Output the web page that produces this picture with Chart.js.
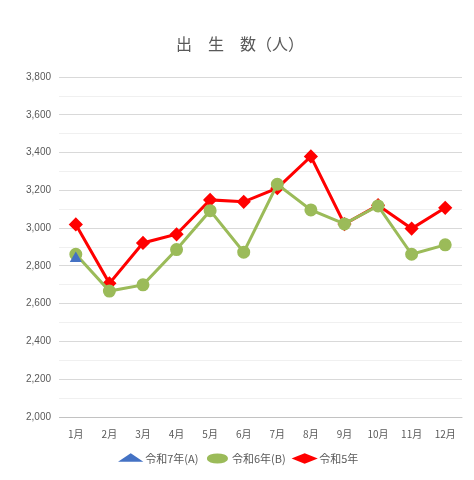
<!DOCTYPE html>
<html><head><meta charset="utf-8">
<script src="https://cdn.jsdelivr.net/npm/chart.js@4"></script>
<style>body{margin:0;background:#fff}#wrap{width:474px;height:480px}</style>
</head><body><div id="wrap"><canvas id="c"></canvas></div>
<script>
const months = ['1月','2月','3月','4月','5月','6月','7月','8月','9月','10月','11月','12月'];
const r7 = [2840, null, null, null, null, null, null, null, null, null, null, null];
const r6 = [2862, 2667, 2700, 2887, 3093, 2873, 3233, 3097, 3023, 3118, 2862, 2912];
const r5 = [3020, 2708, 2922, 2968, 3150, 3140, 3212, 3380, 3022, 3122, 2998, 3108];

new Chart(document.getElementById('c'), {
  type: 'line',
  data: {
    labels: months,
    datasets: [
      { label: '令和7年(A)', data: r7, borderColor: '#4472c4', backgroundColor: '#4472c4', borderWidth: 3, pointStyle: 'triangle', pointRadius: 4 },
      { label: '令和6年(B)', data: r6, borderColor: '#9bbb59', backgroundColor: '#9bbb59', borderWidth: 3, pointStyle: 'circle', pointRadius: 5 },
      { label: '令和5年', data: r5, borderColor: '#ff0000', backgroundColor: '#ff0000', borderWidth: 3, pointStyle: 'rectRot', pointRadius: 5 }
    ]
  },
  options: {
    responsive: true, maintainAspectRatio: false, animation: false,
    layout: { padding: { left: 18, right: 12, top: 18, bottom: 6 } },
    plugins: {
      title: { display: true, text: '出　生　数（人）', color: '#595959', font: { size: 16, weight: 'normal', family: 'Noto Sans CJK JP' }, padding: { top: 16, bottom: 24 } },
      legend: { position: 'bottom', labels: { usePointStyle: true, pointStyleWidth: 18, color: '#595959', font: { size: 11, family: 'Noto Sans CJK JP' }, boxHeight: 5 } }
    },
    scales: {
      x: { offset: true, grid: { display: false }, ticks: { color: '#595959', font: { size: 10, family: 'Noto Sans CJK JP' } } },
      y: { min: 2000, max: 3800, ticks: { stepSize: 100, color: '#595959', font: { size: 10 }, padding: 8,
             callback: v => v % 200 === 0 ? v.toLocaleString('en-US') : '' },
           grid: { color: ctx => ctx.tick && ctx.tick.value % 200 === 0 ? '#d9d9d9' : '#f0f0f0', drawTicks: false },
           border: { display: false } }
    }
  }
});
</script></body></html>
